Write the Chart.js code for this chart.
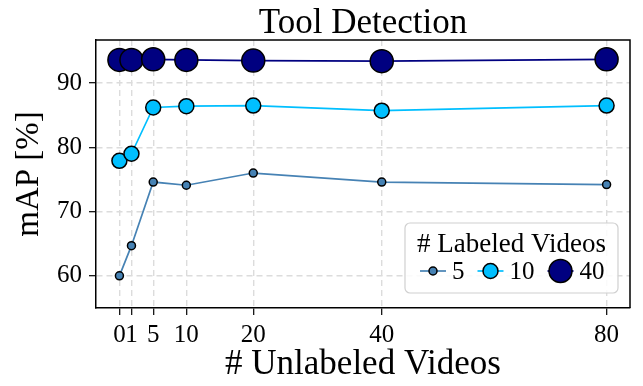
<!DOCTYPE html>
<html>
<head>
<meta charset="utf-8">
<script src="https://cdn.jsdelivr.net/npm/chart.js@4/dist/chart.umd.min.js"></script>
<style>
  html, body { margin: 0; padding: 0; background: #fff; }
  canvas { display: block; }
</style>
</head>
<body>
<canvas id="chart" width="643" height="386"></canvas>
<script>
// values
const xLabels = ["0", "1", "5", "10", "20", "40", "80"];
const xPositions = [0, 1.8, 5.05, 10, 20, 39.2, 72.8]; // where each label sits on the axis
const series5 = [60.0, 64.7, 74.6, 74.1, 76.0, 74.6, 74.2];
const series10 = [77.9, 79.0, 86.2, 86.4, 86.5, 85.7, 86.5];
const series40 = [93.6, 93.6, 93.7, 93.6, 93.5, 93.4, 93.7];
const seriesLabels = ["5", "10", "40"];
const yTicks = [60, 70, 80, 90];

const FONT = "'Liberation Serif', 'Times New Roman', serif";

function toPoints(values) {
    return values.map(function(v, i) { return { x: xPositions[i], y: v }; });
}

// title centred over the plot area, plus the top/right spines
const framePlugin = {
    id: "frame",
    afterDraw: function(chart) {
        const ctx = chart.ctx;
        const a = chart.chartArea;
        ctx.save();
        ctx.strokeStyle = "#000";
        ctx.lineWidth = 1.5;
        ctx.beginPath();
        ctx.moveTo(a.left, a.top);
        ctx.lineTo(a.right, a.top);
        ctx.lineTo(a.right, a.bottom);
        ctx.stroke();
        ctx.fillStyle = "#000";
        ctx.font = "35px " + FONT;
        ctx.textAlign = "center";
        ctx.textBaseline = "alphabetic";
        ctx.fillText("Tool Detection", (a.left + a.right) / 2, 33);
        ctx.restore();
    }
};

// legend box in the lower right corner of the plot
const legendPlugin = {
    id: "boxLegend",
    afterDraw: function(chart) {
        const ctx = chart.ctx;
        const a = chart.chartArea;
        const w = 213, h = 70;
        const left = a.right - 12 - w, top = a.bottom - 15 - h;
        ctx.save();
        ctx.beginPath();
        ctx.roundRect(left, top, w, h, 5);
        ctx.fillStyle = "rgba(255,255,255,0.85)";
        ctx.fill();
        ctx.strokeStyle = "#d0d0d0";
        ctx.lineWidth = 1.2;
        ctx.stroke();

        ctx.fillStyle = "#000";
        ctx.font = "27px " + FONT;
        ctx.textAlign = "center";
        ctx.textBaseline = "alphabetic";
        ctx.fillText("# Labeled Videos", left + w / 2, top + 29);

        let x = left + 15;
        const y = top + 48;
        ctx.font = "25px " + FONT;
        ctx.textAlign = "left";
        chart.data.datasets.forEach(function(ds) {
            ctx.strokeStyle = ds.borderColor;
            ctx.lineWidth = ds.borderWidth;
            ctx.beginPath();
            ctx.moveTo(x, y);
            ctx.lineTo(x + 26, y);
            ctx.stroke();
            ctx.beginPath();
            ctx.arc(x + 13, y, ds.pointRadius, 0, Math.PI * 2);
            ctx.fillStyle = ds.pointBackgroundColor;
            ctx.fill();
            ctx.strokeStyle = ds.pointBorderColor;
            ctx.lineWidth = ds.pointBorderWidth;
            ctx.stroke();
            ctx.fillStyle = "#000";
            ctx.textBaseline = "middle";
            ctx.fillText(ds.label, x + 32, y + 1);
            x = x + 32 + ctx.measureText(ds.label).width + 13;
        });
        ctx.restore();
    }
};

function makeDataset(label, values, color, radius) {
    return {
        label: label,
        data: toPoints(values),
        borderColor: color,
        borderWidth: 1.7,
        pointBackgroundColor: color,
        pointBorderColor: "#000",
        pointBorderWidth: 1.5,
        pointRadius: radius,
        pointHoverRadius: radius,
        fill: false,
        tension: 0
    };
}

const gridStyle = {
    color: "#dcdcdc",
    lineWidth: 1.4,
    tickColor: "#000",
    tickLength: 7,
    tickWidth: 1.2,
    tickBorderDash: []
};

// in v4 border.dash is what dashes the grid lines
const borderStyle = { color: "#000", width: 1.5, dash: [6, 4] };

new Chart(document.getElementById("chart").getContext("2d"), {
    type: "line",
    data: {
        datasets: [
            makeDataset(seriesLabels[0], series5, "#4682b4", 4),
            makeDataset(seriesLabels[1], series10, "#00bfff", 7.5),
            makeDataset(seriesLabels[2], series40, "#000080", 11.5)
        ]
    },
    options: {
        responsive: false,
        animation: false,
        layout: { padding: { left: 0, right: 11, top: 40, bottom: 0 } },
        plugins: {
            legend: { display: false },
            title: { display: false },
            tooltip: { enabled: false }
        },
        scales: {
            x: {
                type: "linear",
                min: -3.5,
                max: 76.3,
                grid: gridStyle,
                border: borderStyle,
                afterBuildTicks: function(scale) {
                    scale.ticks = xPositions.map(function(p) { return { value: p }; });
                },
                afterFit: function(scale) { scale.height = 78; },
                ticks: {
                    autoSkip: false,
                    maxRotation: 0,
                    padding: 5,
                    color: "#000",
                    font: { family: FONT, size: 25 },
                    callback: function(value, index) { return xLabels[index]; }
                },
                title: {
                    display: true,
                    text: "# Unlabeled Videos",
                    color: "#000",
                    font: { family: FONT, size: 35 },
                    padding: { top: 0, bottom: 0 }
                }
            },
            y: {
                min: 55.0,
                max: 96.7,
                grid: gridStyle,
                border: borderStyle,
                afterBuildTicks: function(scale) {
                    scale.ticks = yTicks.map(function(v) { return { value: v }; });
                },
                afterFit: function(scale) { scale.width = 96; },
                ticks: {
                    padding: 7,
                    color: "#000",
                    font: { family: FONT, size: 25 }
                },
                title: {
                    display: true,
                    text: "mAP [%]",
                    color: "#000",
                    font: { family: FONT, size: 33 },
                    padding: { top: 10, bottom: 0 }
                }
            }
        }
    },
    plugins: [framePlugin, legendPlugin]
});
</script>
</body>
</html>
